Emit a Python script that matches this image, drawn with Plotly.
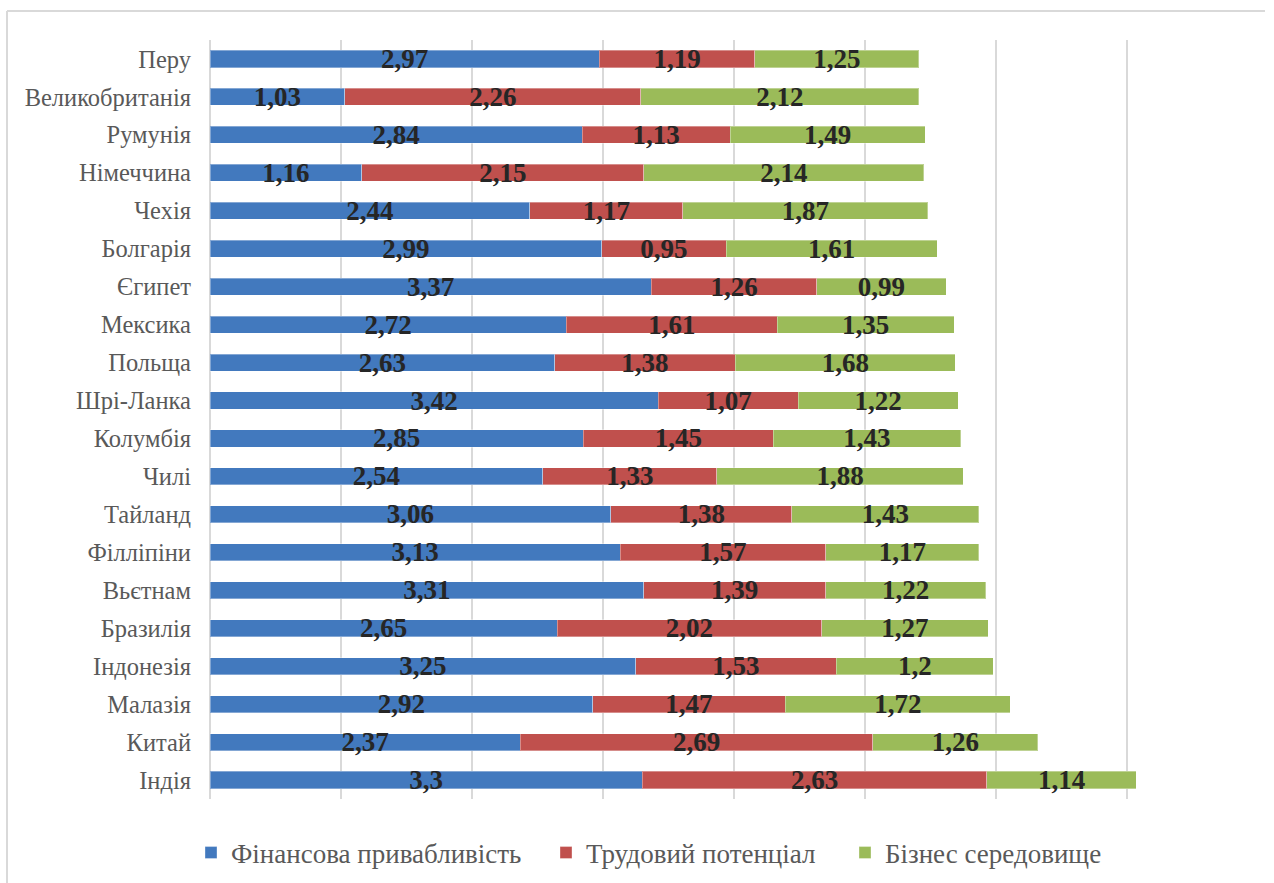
import plotly.graph_objects as go

countries = ["Перу", "Великобританія", "Румунія", "Німеччина", "Чехія", "Болгарія",
             "Єгипет", "Мексика", "Польща", "Шрі-Ланка", "Колумбія", "Чилі",
             "Тайланд", "Філліпіни", "Вьєтнам", "Бразилія", "Індонезія", "Малазія",
             "Китай", "Індія"]
financial = [2.97, 1.03, 2.84, 1.16, 2.44, 2.99, 3.37, 2.72, 2.63, 3.42, 2.85, 2.54,
             3.06, 3.13, 3.31, 2.65, 3.25, 2.92, 2.37, 3.3]
labour = [1.19, 2.26, 1.13, 2.15, 1.17, 0.95, 1.26, 1.61, 1.38, 1.07, 1.45, 1.33,
          1.38, 1.57, 1.39, 2.02, 1.53, 1.47, 2.69, 2.63]
business = [1.25, 2.12, 1.49, 2.14, 1.87, 1.61, 0.99, 1.35, 1.68, 1.22, 1.43, 1.88,
            1.43, 1.17, 1.22, 1.27, 1.2, 1.72, 1.26, 1.14]
series_names = ["Фінансова привабливість", "Трудовий потенціал", "Бізнес середовище"]
colors = ["#4279BE", "#C0504D", "#9BBB59"]

SERIF = "Liberation Serif"

def fmt(v):
    return str(v).replace(".", ",")

fig = go.Figure()
legends = ["legend", "legend2", "legend3"]
for vals, name, col, lg in zip([financial, labour, business], series_names, colors, legends):
    fig.add_trace(go.Bar(
        y=countries, x=vals, orientation="h", name=name,
        marker=dict(color=col, line=dict(color="rgba(255,255,255,0.35)", width=1)),
        text=[fmt(v) for v in vals], textposition="inside", insidetextanchor="middle",
        textfont=dict(family=SERIF, size=27, color="#262626", weight="bold"),
        constraintext="none", legend=lg, hoverinfo="x+y",
    ))

W, H = 1274, 883
L, R, T, B = 210, 16, 40, 84
pw = W - L - R
ph = H - T - B

def px2x(p):
    return (p - L) / pw

def py2y(p):
    return (H - B - p) / ph

legfont = dict(family=SERIF, size=27, color="#595959")
leg_common = dict(orientation="h", yanchor="middle", xanchor="left",
                  xref="container", yref="container",
                  font=legfont, bgcolor="rgba(0,0,0,0)", itemwidth=30)
leg_y = 1 - 853 / H

fig.update_layout(
    width=W, height=H,
    font=dict(family=SERIF, color="#595959"),
    margin=dict(l=L, r=R, t=T, b=B, autoexpand=False),
    paper_bgcolor="white", plot_bgcolor="white",
    barmode="stack", bargap=0.55,
    uniformtext=dict(minsize=27, mode="show"),
    showlegend=True,
    legend=dict(x=191 / W, y=leg_y, **leg_common),
    legend2=dict(x=546 / W, y=leg_y, **leg_common),
    legend3=dict(x=845 / W, y=leg_y, **leg_common),
    xaxis=dict(range=[0, 8], dtick=1, showgrid=True, gridcolor="#D9D9D9", gridwidth=2,
               showticklabels=False, zeroline=True, zerolinecolor="#D9D9D9", zerolinewidth=2,
               showline=False, fixedrange=True),
    yaxis=dict(autorange="reversed", showgrid=False, showline=False,
               tickfont=dict(family=SERIF, size=24.5, color="#595959"),
               ticks="", ticklabelstandoff=18),
    shapes=[
        dict(type="line", xref="paper", yref="paper", x0=px2x(7), x1=px2x(1265),
             y0=py2y(11), y1=py2y(11), line=dict(color="#D9D9D9", width=2)),
        dict(type="line", xref="paper", yref="paper", x0=px2x(7), x1=px2x(7),
             y0=py2y(11), y1=py2y(890), line=dict(color="#D9D9D9", width=2)),
    ],
)

fig.write_html("out.html")
